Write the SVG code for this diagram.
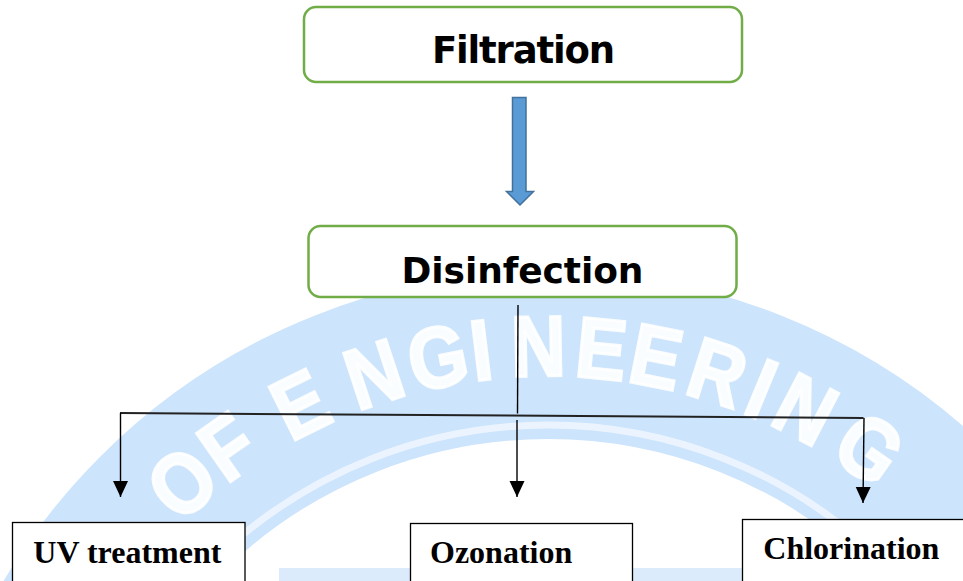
<svg xmlns="http://www.w3.org/2000/svg" width="963" height="581" viewBox="0 0 963 581">
<style>
.band{fill:none;stroke:#cce4fc}
.wm{font-family:"Liberation Sans",Arial,sans-serif;font-weight:bold;font-size:86px;fill:#ffffff;stroke:#ffffff;stroke-width:3;fill-opacity:0.9;stroke-opacity:0.9;text-anchor:middle}
.gbox{fill:#ffffff;stroke:#70ad47;stroke-width:2.5}
.title{font-family:"DejaVu Sans","Liberation Sans",sans-serif;font-weight:bold;fill:#000000;text-anchor:middle}
.bbox{fill:#ffffff;stroke:#000000;stroke-width:1.3}
.label{font-family:"Liberation Serif","Times New Roman",serif;font-weight:bold;font-size:32px;fill:#000000}
.conn{stroke:#000000;stroke-width:1.4;fill:none}
</style>
<defs>
<marker id="ah" markerUnits="userSpaceOnUse" markerWidth="16" markerHeight="16" viewBox="0 0 16 16" refX="16" refY="8" orient="auto">
<path d="M0,0.5 L16,8 L0,15.5 Z" fill="#000000"/>
</marker>
</defs>
<rect x="0" y="0" width="963" height="581" fill="#ffffff"/>

<g id="watermark">
<circle class="band" cx="548" cy="904" r="549" stroke-width="168"/>
<circle cx="548" cy="904" r="479" fill="none" stroke="#ffffff" stroke-opacity="0.6" stroke-width="7"/>
<rect x="279" y="568" width="464" height="13" fill="#dcebfc"/>
<text class="wm" transform="translate(201.6,505.5) rotate(-41) scale(0.88,1)">O</text>
<text class="wm" transform="translate(245.1,471.5) rotate(-35) scale(0.88,1)">F</text>
<text class="wm" transform="translate(313.3,431.1) rotate(-26.4) scale(0.88,1)">E</text>
<text class="wm" transform="translate(383.1,402.4) rotate(-18.2) scale(0.88,1)">N</text>
<text class="wm" transform="translate(443.6,386.4) rotate(-11.4) scale(0.88,1)">G</text>
<text class="wm" transform="translate(484.6,379.8) rotate(-6.9) scale(0.88,1)">I</text>
<text class="wm" transform="translate(538.8,376.1) rotate(-1) scale(0.88,1)">N</text>
<text class="wm" transform="translate(598.6,378.4) rotate(5.5) scale(0.88,1)">E</text>
<text class="wm" transform="translate(650.5,386) rotate(11.2) scale(0.88,1)">E</text>
<text class="wm" transform="translate(708.5,401) rotate(17.7) scale(0.88,1)">R</text>
<text class="wm" transform="translate(750.1,416.2) rotate(22.5) scale(0.88,1)">I</text>
<text class="wm" transform="translate(791.8,435.7) rotate(27.5) scale(0.88,1)">N</text>
<text class="wm" transform="translate(852.3,472.6) rotate(35.2) scale(0.88,1)">G</text>
</g>

<g id="filtration">
<rect class="gbox" x="304" y="7" width="438" height="75" rx="12"/>
<text class="title" x="523.5" y="63.3" font-size="37" textLength="183">Filtration</text>
</g>

<g id="disinfection">
<rect class="gbox" x="308.5" y="226" width="428" height="71" rx="12"/>
<text class="title" x="522.5" y="282.7" font-size="36" textLength="242">Disinfection</text>
</g>

<g id="uv-treatment">
<rect class="bbox" x="12.5" y="522.5" width="232.5" height="70"/>
<text class="label" x="33.3" y="562.7">UV treatment</text>
</g>

<g id="ozonation">
<rect class="bbox" x="410.5" y="523.5" width="222" height="70"/>
<text class="label" x="430" y="563.3">Ozonation</text>
</g>

<g id="chlorination">
<rect class="bbox" x="742.5" y="519.5" width="230" height="70"/>
<text class="label" x="763.3" y="559.3">Chlorination</text>
</g>

<g id="connectors">
<path d="M512.5,97.5 L526,97.5 L526,191.5 L533.5,191.5 L520,205 L506.5,191.5 L512.5,191.5 Z" fill="#5b9bd5" stroke="#41719c" stroke-width="1.5"/>
<line class="conn" x1="518" y1="305" x2="517.5" y2="413.5"/>
<line x1="120" y1="413" x2="863.5" y2="418" stroke="#222222" stroke-width="2"/>
<line class="conn" x1="120.5" y1="413" x2="120.5" y2="497" marker-end="url(#ah)"/>
<line class="conn" x1="517" y1="420" x2="517" y2="497" marker-end="url(#ah)"/>
<line class="conn" x1="864" y1="418" x2="863" y2="503" marker-end="url(#ah)"/>
</g>
</svg>
